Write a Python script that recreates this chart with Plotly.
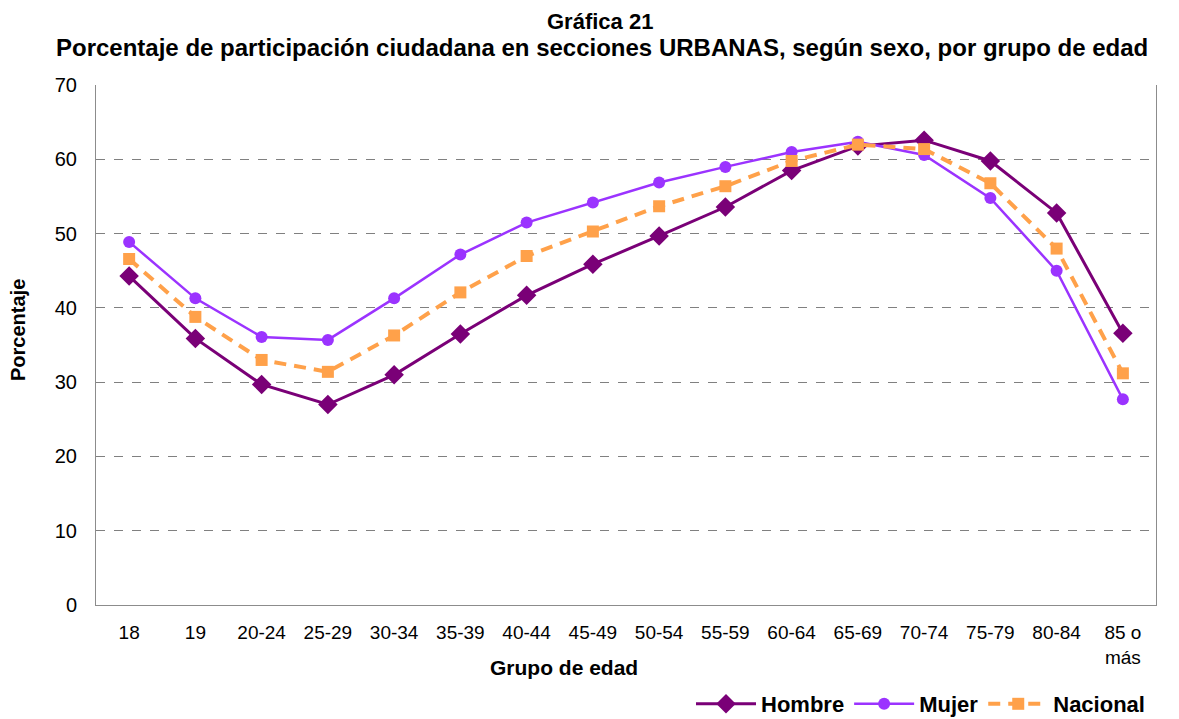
import plotly.graph_objects as go

categorias = ["18", "19", "20-24", "25-29", "30-34", "35-39", "40-44", "45-49",
              "50-54", "55-59", "60-64", "65-69", "70-74", "75-79", "80-84", "85 o<br>más"]
hombre = [44.3, 35.9, 29.7, 27.0, 31.0, 36.5, 41.7, 45.9, 49.7, 53.6, 58.5, 61.8, 62.6, 59.8, 52.8, 36.6]
mujer = [48.9, 41.3, 36.1, 35.7, 41.3, 47.2, 51.5, 54.2, 56.9, 59.0, 61.0, 62.4, 60.6, 54.8, 45.0, 27.7]
nacional = [46.6, 38.8, 33.0, 31.4, 36.3, 42.1, 47.0, 50.3, 53.7, 56.4, 59.8, 62.0, 61.4, 56.8, 48.0, 31.2]
y_ticks = [0, 10, 20, 30, 40, 50, 60, 70]

font = "Liberation Sans, Arial, sans-serif"

# plot area in screenshot pixels: x 96..1156, y 85..605 (page body has an 8px margin)
PX0, PY0, PW, PH = 96, 85, 1060, 520


def px(x):
    return (x - PX0) / PW


def py(y):
    return (PY0 + PH - y) / PH


fig = go.Figure()
fig.add_trace(go.Scatter(x=categorias, y=hombre, name="<b>Hombre</b>", mode="lines+markers",
                         line=dict(color="#7A0077", width=3),
                         marker=dict(symbol="diamond", size=15, color="#7A0077")))
fig.add_trace(go.Scatter(x=categorias, y=mujer, name="<b>Mujer</b>", mode="lines+markers",
                         line=dict(color="#9B33FF", width=2.5),
                         marker=dict(symbol="circle", size=12, color="#9B33FF")))
fig.add_trace(go.Scatter(x=categorias, y=nacional, name="<b>Nacional</b>", mode="lines+markers",
                         line=dict(color="#FFA14A", width=4, dash="12px,8px"),
                         marker=dict(symbol="square", size=12, color="#FFA14A")))

fig.add_annotation(text="<b>Gráfica 21</b>", xref="paper", yref="paper",
                   x=px(600), y=py(22), xanchor="center", yanchor="middle",
                   showarrow=False, font=dict(family=font, size=22, color="black"))
fig.add_annotation(text="<b>Porcentaje de participación ciudadana en secciones URBANAS, según sexo, por grupo de edad</b>",
                   xref="paper", yref="paper",
                   x=px(602), y=py(47), xanchor="center", yanchor="middle",
                   showarrow=False, font=dict(family=font, size=24, color="black"))
fig.add_annotation(text="<b>Grupo de edad</b>", xref="paper", yref="paper",
                   x=px(564), y=py(667), xanchor="center", yanchor="middle",
                   showarrow=False, font=dict(family=font, size=21, color="black"))
fig.add_annotation(text="<b>Porcentaje</b>", xref="paper", yref="paper", textangle=-90,
                   x=px(18), y=py(330), xanchor="center", yanchor="middle",
                   showarrow=False, font=dict(family=font, size=20, color="black"))

fig.update_layout(
    width=1171, height=711,
    margin=dict(l=88, r=23, t=77, b=114, autoexpand=False),
    paper_bgcolor="white", plot_bgcolor="white",
    font=dict(family=font, size=19, color="black"),
    xaxis=dict(type="category", range=[-0.5, 15.5], showline=True, linecolor="#8C8C8C", linewidth=1,
               showgrid=False, ticks="", tickfont=dict(size=19), ticklabelstandoff=10,
               automargin=False),
    yaxis=dict(range=[0, 70.03], tickvals=y_ticks, showline=True, linecolor="#8C8C8C",
               linewidth=1, mirror=True, showgrid=True, gridcolor="#808080",
               griddash="dash", gridwidth=1.3, zeroline=False, ticks="",
               tickfont=dict(size=20), ticklabelstandoff=14, automargin=False),
    legend=dict(orientation="h", x=px(1150), xanchor="right", y=py(704), yanchor="middle",
                font=dict(size=22), traceorder="normal", itemwidth=60),
    showlegend=True,
)

fig.write_html("out.html")
